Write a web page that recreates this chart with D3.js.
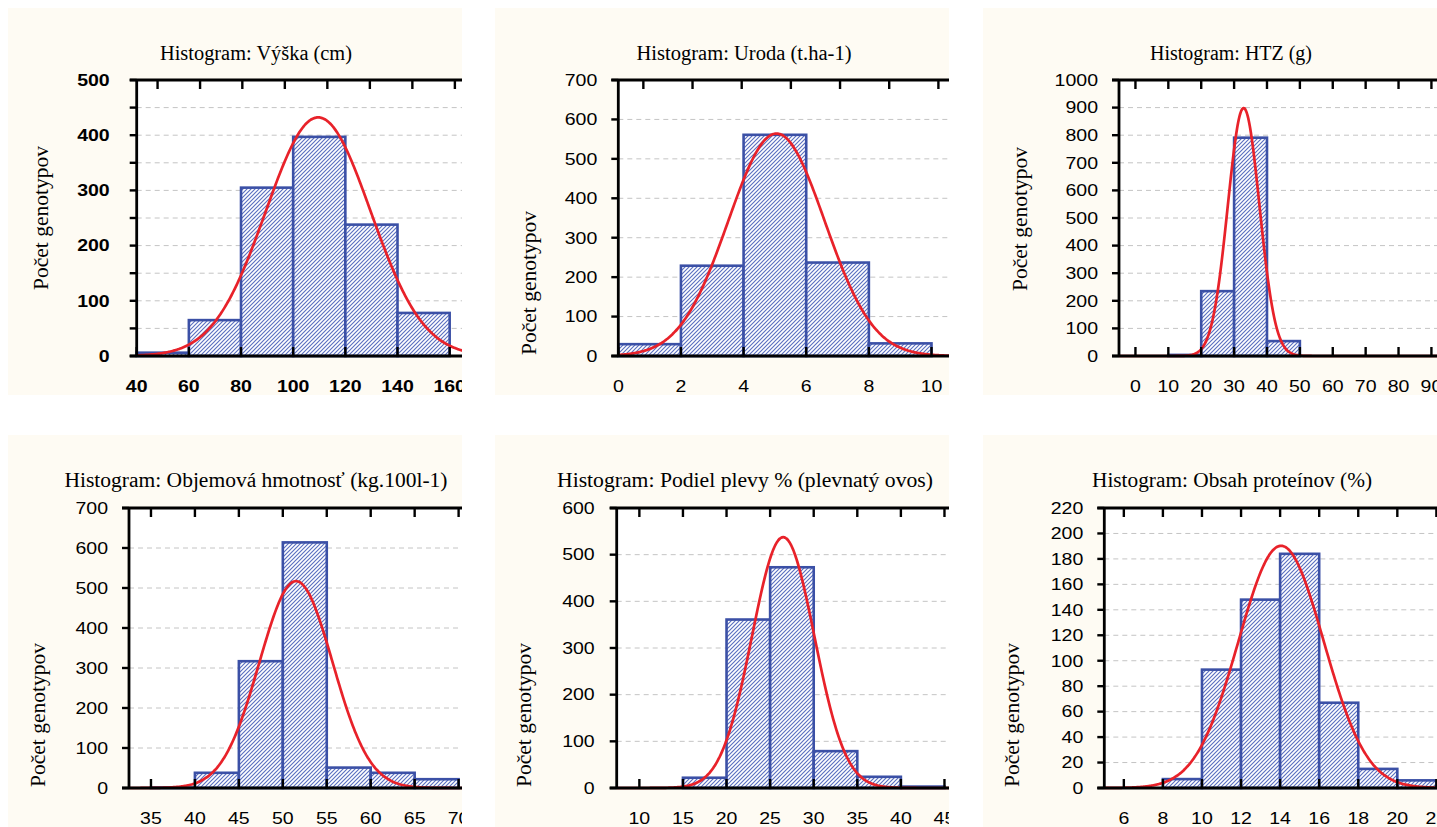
<!DOCTYPE html>
<html>
<head>
<meta charset="utf-8">
<script src="https://cdn.jsdelivr.net/npm/d3@7"></script>
<style>
  body { margin: 0; background: #fff; }
  text { fill: #000; }
</style>
</head>
<body>
<div id="chart"></div>
<script>
// Page size.
const WIDTH = 1437;
const HEIGHT = 827;

// Histogram data: bin edges and counts per chart.
const titles = [
  "Histogram: Výška (cm)",
  "Histogram: Uroda (t.ha-1)",
  "Histogram: HTZ (g)",
  "Histogram: Objemová hmotnosť (kg.100l-1)",
  "Histogram: Podiel plevy % (plevnatý ovos)",
  "Histogram: Obsah proteínov (%)",
];
const yLabel = "Počet genotypov";

const vyskaEdges = [40, 60, 80, 100, 120, 140, 160];
const vyskaCounts = [6, 65, 305, 397, 238, 78];
const urodaEdges = [0, 2, 4, 6, 8, 10];
const urodaCounts = [30, 229, 561, 237, 32];
const htzEdges = [10, 20, 30, 40, 50];
const htzCounts = [4, 235, 791, 54];
const objemEdges = [35, 40, 45, 50, 55, 60, 65, 70];
const objemCounts = [1, 38, 317, 614, 51, 38, 22];
const plevyEdges = [15, 20, 25, 30, 35, 40, 45];
const plevyCounts = [22, 361, 473, 79, 24, 3];
const proteinEdges = [8, 10, 12, 14, 16, 18, 20, 22];
const proteinCounts = [7, 93, 148, 184, 67, 15, 6];

// Fitted normal curves (mean, standard deviation).
const fitMeans = [109.6, 5.05, 32.9, 51.5, 26.5, 14.05];
const fitSds = [20.1, 1.54, 4.81, 4.17, 3.57, 2.18];

// Axis ticks.
const xTicks = [
  [40, 60, 80, 100, 120, 140, 160],
  [0, 2, 4, 6, 8, 10],
  [0, 10, 20, 30, 40, 50, 60, 70, 80, 90],
  [35, 40, 45, 50, 55, 60, 65, 70],
  [10, 15, 20, 25, 30, 35, 40, 45],
  [6, 8, 10, 12, 14, 16, 18, 20, 22],
];
// Unlabelled ticks along the top edge (in x units).
const topTicks = [
  [48, 64.3, 80.5, 96.8, 113.1, 129.4, 145.7, 162],
  [0.8, 2.37, 3.94, 5.51, 7.08, 8.65, 10.22],
  xTicks[2], xTicks[3], xTicks[4], xTicks[5],
];
const yMax = [500, 700, 1000, 700, 600, 220];
const yStep = [100, 100, 100, 100, 100, 20];
const gridStep = [50, 100, 100, 100, 100, 20];

const edges = [vyskaEdges, urodaEdges, htzEdges, objemEdges, plevyEdges, proteinEdges];
const counts = [vyskaCounts, urodaCounts, htzCounts, objemCounts, plevyCounts, proteinCounts];

// Page layout of each chart (tw = title width, lg = gap of y labels).
const LAYOUT = [
  { bg: [8, 8, 454, 387], left: 136.7, top: 80, bottom: 356, xd: [40, 165], w: 326,
    tx: 256, ty: 60, tw: 192, lx: 48, ly: 218, la: "middle", lg: 27, bold: true },
  { bg: [495, 8, 454, 387], left: 618.3, top: 80, bottom: 356, xd: [0, 10.6], w: 332,
    tx: 744, ty: 60, tw: 215, lx: 536, ly: 355, la: "start", lg: 21 },
  { bg: [983, 8, 454, 387], left: 1119, top: 80, bottom: 356, xd: [-5, 92], w: 319,
    tx: 1231, ty: 60, tw: 162, lx: 1027, ly: 219, la: "middle", lg: 21 },
  { bg: [8, 435, 454, 392], left: 129, top: 508, bottom: 788, xd: [32.5, 70.5], w: 334,
    tx: 256, ty: 487, tw: 383, lx: 45, ly: 787, la: "start", lg: 21 },
  { bg: [495, 435, 454, 392], left: 616.7, top: 508, bottom: 788, xd: [7.4, 45.6], w: 333,
    tx: 745, ty: 487, tw: 376, lx: 531, ly: 787, la: "start", lg: 22 },
  { bg: [983, 435, 454, 392], left: 1104.3, top: 508, bottom: 788, xd: [5, 22.2], w: 336,
    tx: 1232, ty: 487, tw: 280, lx: 1019, ly: 787, la: "start", lg: 21 },
];

// Styles.
const CREAM = "#fefbf3";
const BAR_STROKE = "#3b50a6";
const HATCH = "#5a6fc0";
const CURVE = "#e8222a";
const SANS = "'Liberation Sans', Arial, sans-serif";
const SERIF = "'Liberation Serif', 'Times New Roman', serif";
const TICK_SX = 1.22; // tick labels are stretched horizontally in the original

const svg = d3
  .select("#chart")
  .append("svg")
  .attr("width", WIDTH)
  .attr("height", HEIGHT);

const defs = svg.append("defs");

// Diagonal hatch used to fill the bars.
const pat = defs
  .append("pattern")
  .attr("id", "hatch")
  .attr("patternUnits", "userSpaceOnUse")
  .attr("width", 4)
  .attr("height", 4);
pat.append("rect").attr("width", 4).attr("height", 4).attr("fill", "#fff");
pat
  .append("path")
  .attr("d", "M-1,1 l2,-2 M0,4 l4,-4 M3,5 l2,-2")
  .attr("stroke", HATCH)
  .attr("stroke-width", 1.15);

function normal(x, mean, sd) {
  return Math.exp(-((x - mean) ** 2) / (2 * sd * sd)) / (sd * Math.sqrt(2 * Math.PI));
}

LAYOUT.forEach((L, i) => drawPanel(L, i));

function drawPanel(L, i) {
  const [bx, by, bw, bh] = L.bg;

  defs
    .append("clipPath")
    .attr("id", "panel" + i)
    .append("rect")
    .attr("x", bx)
    .attr("y", by)
    .attr("width", bw)
    .attr("height", bh);

  const right = L.left + L.w;
  defs
    .append("clipPath")
    .attr("id", "plot" + i)
    .append("rect")
    .attr("x", L.left - 3)
    .attr("y", L.top)
    .attr("width", L.w + 6)
    .attr("height", L.bottom - L.top + 2);

  const g = svg.append("g").attr("clip-path", "url(#panel" + i + ")");
  g.append("rect")
    .attr("x", bx)
    .attr("y", by)
    .attr("width", bw)
    .attr("height", bh)
    .attr("fill", CREAM);

  const x = d3.scaleLinear().domain(L.xd).range([L.left, right]);
  const y = d3.scaleLinear().domain([0, yMax[i]]).range([L.bottom, L.top]);

  // Plot background.
  g.append("rect")
    .attr("x", L.left)
    .attr("y", L.top)
    .attr("width", L.w)
    .attr("height", L.bottom - L.top)
    .attr("fill", "#fff");

  // Dashed grid.
  const gridVals = d3.range(gridStep[i], yMax[i], gridStep[i]);
  g.append("g")
    .selectAll("line")
    .data(gridVals)
    .join("line")
    .attr("x1", L.left)
    .attr("x2", right)
    .attr("y1", (d) => y(d))
    .attr("y2", (d) => y(d))
    .attr("stroke", "#c4c4c4")
    .attr("stroke-width", 1)
    .attr("stroke-dasharray", "5,4");

  // Bars.
  const e = edges[i];
  const bins = counts[i].map((c, k) => ({ x0: e[k], x1: e[k + 1], c: c }));
  const plot = g.append("g").attr("clip-path", "url(#plot" + i + ")");
  plot
    .selectAll("rect.bar")
    .data(bins)
    .join("rect")
    .attr("class", "bar")
    .attr("x", (d) => x(d.x0))
    .attr("y", (d) => y(d.c))
    .attr("width", (d) => x(d.x1) - x(d.x0))
    .attr("height", (d) => y(0) - y(d.c))
    .attr("fill", "url(#hatch)")
    .attr("stroke", BAR_STROKE)
    .attr("stroke-width", 2.6);

  // Axes: left, top and bottom frame lines with ticks.
  const ax = g.append("g").attr("stroke", "#000").attr("fill", "none");
  ax.append("line")
    .attr("x1", L.left).attr("x2", L.left)
    .attr("y1", L.top).attr("y2", L.bottom)
    .attr("stroke-width", 2.8);
  [L.top, L.bottom].forEach((yy) =>
    ax.append("line")
      .attr("x1", L.left - 7).attr("x2", right + 10)
      .attr("y1", yy).attr("y2", yy)
      .attr("stroke-width", 2.8)
  );

  // Left ticks (outward), with minor ticks where the grid is finer.
  ax.selectAll("line.yt")
    .data(d3.range(0, yMax[i] + 1e-9, gridStep[i]))
    .join("line")
    .attr("class", "yt")
    .attr("x1", L.left - 7).attr("x2", L.left)
    .attr("y1", (d) => y(d)).attr("y2", (d) => y(d))
    .attr("stroke-width", 2.4);

  // Top ticks (inward).
  ax.selectAll("line.tt")
    .data(topTicks[i])
    .join("line")
    .attr("class", "tt")
    .attr("x1", (d) => x(d)).attr("x2", (d) => x(d))
    .attr("y1", L.top).attr("y2", L.top + 9)
    .attr("stroke-width", 2.4);

  // Bottom ticks (inward).
  ax.selectAll("line.bt")
    .data(xTicks[i])
    .join("line")
    .attr("class", "bt")
    .attr("x1", (d) => x(d)).attr("x2", (d) => x(d))
    .attr("y1", L.bottom).attr("y2", L.bottom - 9)
    .attr("stroke-width", 2.4);

  // Fitted normal curve.
  const n = d3.sum(counts[i]);
  const binW = e[1] - e[0];
  const xs = d3.range(L.xd[0], L.xd[1], (L.xd[1] - L.xd[0]) / 300).concat([L.xd[1]]);
  const line = d3
    .line()
    .x((d) => x(d))
    .y((d) => y(n * binW * normal(d, fitMeans[i], fitSds[i])))
    .curve(d3.curveBasis);
  plot
    .append("path")
    .datum(xs)
    .attr("d", line)
    .attr("fill", "none")
    .attr("stroke", CURVE)
    .attr("stroke-width", 2.7);

  // Tick labels.
  const weight = L.bold ? "bold" : "normal";
  g.append("g")
    .selectAll("text")
    .data(d3.range(0, yMax[i] + 1e-9, yStep[i]))
    .join("text")
    .attr("transform", (d) => `translate(${L.left - L.lg},${y(d) + 5.8}) scale(${TICK_SX},1)`)
    .attr("text-anchor", "end")
    .style("font-family", SANS)
    .style("font-size", "16px")
    .style("font-weight", weight)
    .text((d) => d);

  g.append("g")
    .selectAll("text")
    .data(xTicks[i])
    .join("text")
    .attr("transform", (d) => `translate(${x(d)},${L.bottom + 36}) scale(${TICK_SX},1)`)
    .attr("text-anchor", "middle")
    .style("font-family", SANS)
    .style("font-size", "16px")
    .style("font-weight", weight)
    .text((d) => d);

  // Title and axis label.
  g.append("text")
    .attr("x", L.tx)
    .attr("y", L.ty)
    .attr("text-anchor", "middle")
    .attr("textLength", L.tw)
    .attr("lengthAdjust", "spacingAndGlyphs")
    .style("font-family", SERIF)
    .style("font-size", "20px")
    .text(titles[i]);

  g.append("text")
    .attr("transform", `translate(${L.lx},${L.ly}) rotate(-90)`)
    .attr("text-anchor", L.la)
    .attr("textLength", 144)
    .attr("lengthAdjust", "spacingAndGlyphs")
    .style("font-family", SERIF)
    .style("font-size", "20px")
    .text(yLabel);
}
</script>
</body>
</html>
